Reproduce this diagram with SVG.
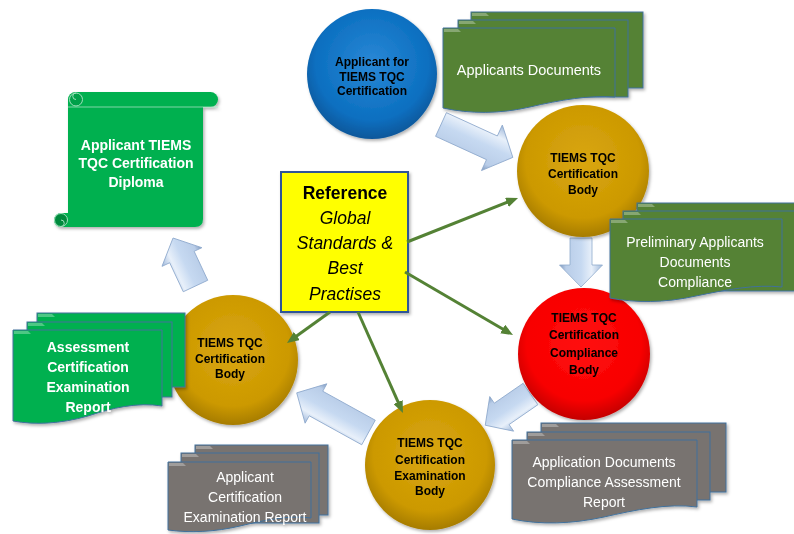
<svg xmlns="http://www.w3.org/2000/svg" width="794" height="534" viewBox="0 0 794 534">
<defs>
<style>
.ctext{font-family:"Liberation Sans",Arial,sans-serif;font-weight:bold;font-size:12px;fill:#000;text-anchor:middle}
.dtext{font-family:"Liberation Sans",Arial,sans-serif;font-size:14px;fill:#fff;text-anchor:middle}
.btext{font-family:"Liberation Sans",Arial,sans-serif;font-weight:bold;font-size:14px;fill:#fff;text-anchor:middle}
.rtext{font-family:"Liberation Sans",Arial,sans-serif;font-size:17.5px;fill:#000;text-anchor:middle}
.dgreen{fill:#548235;stroke:#41719c;stroke-width:1}
.bgreen{fill:#00b050;stroke:#41719c;stroke-width:1}
.grey{fill:#787370;stroke:#41719c;stroke-width:1}
.tab{fill:#ffffff;opacity:0.3}
.barrow{fill:url(#arrGrad);stroke:#8ea9cc;stroke-width:0.8}
.conn{stroke:#548235;stroke-width:3;fill:none;marker-end:url(#gArrow)}
</style>
<radialGradient id="blueGrad" cx="50%" cy="42%" r="58%">
<stop offset="0" stop-color="#2a88d6"/><stop offset="0.75" stop-color="#0b6fc0"/><stop offset="1" stop-color="#0a579a"/>
</radialGradient>
<radialGradient id="goldGrad" cx="50%" cy="42%" r="58%">
<stop offset="0" stop-color="#d9a611"/><stop offset="0.75" stop-color="#cc9900"/><stop offset="1" stop-color="#a67c04"/>
</radialGradient>
<radialGradient id="redGrad" cx="50%" cy="42%" r="58%">
<stop offset="0" stop-color="#ff1010"/><stop offset="0.75" stop-color="#f80000"/><stop offset="1" stop-color="#c40000"/>
</radialGradient>
<linearGradient id="arrGrad" x1="0" y1="0" x2="0" y2="1">
<stop offset="0" stop-color="#9fb8da"/><stop offset="0.25" stop-color="#e8f0fa"/><stop offset="0.5" stop-color="#c6d9f1"/><stop offset="0.85" stop-color="#b9cde8"/><stop offset="1" stop-color="#7f98bd"/>
</linearGradient>
<filter id="sh" x="-10%" y="-10%" width="125%" height="125%">
<feDropShadow dx="1.5" dy="2" stdDeviation="1.5" flood-color="#000" flood-opacity="0.3"/>
</filter>
<marker id="gArrow" viewBox="0 0 12 10" markerWidth="12" markerHeight="10" refX="4" refY="5" orient="auto" markerUnits="userSpaceOnUse">
<path d="M0,0 L12,5 L0,10 Z" fill="#548235"/>
</marker>
</defs>
<rect width="794" height="534" fill="#fff"/>

<g id="block-arrows">
<path class="barrow" transform="translate(441,124.5) rotate(24.6)" d="M0,-13 H56 V-25 L79,0 L56,25 V13 H0 Z"/>
<path class="barrow" transform="translate(581,238) rotate(90)" d="M0,-11 H27 V-21.5 L49,0 L27,21.5 V11 H0 Z"/>
<path class="barrow" transform="translate(530.5,394) rotate(145.4)" d="M0,-13 H35 V-21 L55,0 L35,21 V13 H0 Z"/>
<path class="barrow" transform="translate(368.5,432.5) rotate(208.9)" d="M0,-14 H60 V-22.5 L82,0 L60,22.5 V14 H0 Z"/>
<path class="barrow" transform="translate(195.5,286) rotate(244.9)" d="M0,-13.5 H32 V-22 L53,0 L32,22 V13.5 H0 Z"/>
</g>

<g id="applicant" filter="url(#sh)">
<circle cx="372" cy="74" r="65" fill="url(#blueGrad)"/>
<text class="ctext" x="372" y="66">Applicant for</text>
<text class="ctext" x="372" y="80.5">TIEMS TQC</text>
<text class="ctext" x="372" y="95">Certification</text>
</g>

<g id="body1" filter="url(#sh)">
<circle cx="583" cy="171" r="66" fill="url(#goldGrad)"/>
<text class="ctext" x="583" y="162">TIEMS TQC</text>
<text class="ctext" x="583" y="178">Certification</text>
<text class="ctext" x="583" y="194">Body</text>
</g>

<g id="compliance-body" filter="url(#sh)">
<circle cx="584" cy="354" r="66" fill="url(#redGrad)"/>
<text class="ctext" x="584" y="322">TIEMS TQC</text>
<text class="ctext" x="584" y="339">Certification</text>
<text class="ctext" x="584" y="357">Compliance</text>
<text class="ctext" x="584" y="374">Body</text>
</g>

<g id="exam-body" filter="url(#sh)">
<circle cx="430" cy="465" r="65" fill="url(#goldGrad)"/>
<text class="ctext" x="430" y="447">TIEMS TQC</text>
<text class="ctext" x="430" y="464">Certification</text>
<text class="ctext" x="430" y="480">Examination</text>
<text class="ctext" x="430" y="495">Body</text>
</g>

<g id="body2" filter="url(#sh)">
<circle cx="233" cy="360" r="65" fill="url(#goldGrad)"/>
<text class="ctext" x="230" y="347">TIEMS TQC</text>
<text class="ctext" x="230" y="363">Certification</text>
<text class="ctext" x="230" y="378">Body</text>
</g>

<g id="applicants-documents" filter="url(#sh)">
<rect class="dgreen" x="471" y="12" width="172" height="76"/>
<path class="tab" d="M472,13 H486 L489,16 H472 Z"/>
<rect class="dgreen" x="458" y="20" width="170" height="77"/>
<path class="tab" d="M459,21 H473 L476,24 H459 Z"/>
<path class="dgreen" d="M443,28 H615 V97 C590,95 560,100 530,107 C500,114 470,114 443,108 Z"/>
<path class="tab" d="M444,29 H458 L461,32 H444 Z"/>
<text class="dtext" x="529" y="75" style="font-size:14.5px">Applicants Documents</text>
</g>

<g id="preliminary" filter="url(#sh)">
<rect class="dgreen" x="637" y="203" width="172" height="76"/>
<path class="tab" d="M638,204 H652 L655,207 H638 Z"/>
<rect class="dgreen" x="623" y="211" width="172" height="80"/>
<path class="tab" d="M624,212 H638 L641,215 H624 Z"/>
<path class="dgreen" d="M610,219 H782 V287 C755,284 725,290 696,296 C665,303 635,303 610,298 Z"/>
<path class="tab" d="M611,220 H625 L628,223 H611 Z"/>
<text class="dtext" x="695" y="247">Preliminary Applicants</text>
<text class="dtext" x="695" y="267">Documents</text>
<text class="dtext" x="695" y="287">Compliance</text>
</g>

<g id="compliance-report" filter="url(#sh)">
<rect class="grey" x="541" y="423" width="185" height="69"/>
<path class="tab" d="M542,424 H556 L559,427 H542 Z"/>
<rect class="grey" x="527" y="432" width="183" height="68"/>
<path class="tab" d="M528,433 H542 L545,436 H528 Z"/>
<path class="grey" d="M512,440 H697 V507 C668,503 635,510 604,517 C572,524 540,525 512,519 Z"/>
<path class="tab" d="M513,441 H527 L530,444 H513 Z"/>
<text class="dtext" x="604" y="467">Application Documents</text>
<text class="dtext" x="604" y="487">Compliance Assessment</text>
<text class="dtext" x="604" y="507">Report</text>
</g>

<g id="assessment-report" filter="url(#sh)">
<rect class="bgreen" x="37" y="313" width="148" height="74"/>
<path class="tab" d="M38,314 H52 L55,317 H38 Z"/>
<rect class="bgreen" x="27" y="322" width="145" height="75"/>
<path class="tab" d="M28,323 H42 L45,326 H28 Z"/>
<path class="bgreen" d="M13,330 H162 V406 C137,402 112,408 88,416 C60,424 35,425 13,421 Z"/>
<path class="tab" d="M14,331 H28 L31,334 H14 Z"/>
<text class="btext" x="88" y="352">Assessment</text>
<text class="btext" x="88" y="372">Certification</text>
<text class="btext" x="88" y="392">Examination</text>
<text class="btext" x="88" y="412">Report</text>
</g>

<g id="exam-report" filter="url(#sh)">
<rect class="grey" x="195" y="445" width="133" height="70"/>
<path class="tab" d="M196,446 H210 L213,449 H196 Z"/>
<rect class="grey" x="181" y="453" width="138" height="70"/>
<path class="tab" d="M182,454 H196 L199,457 H182 Z"/>
<path class="grey" d="M168,462 H311 V518 C290,515 265,520 240,526 C215,532 190,533 168,530 Z"/>
<path class="tab" d="M169,463 H183 L186,466 H169 Z"/>
<text class="dtext" x="245" y="482">Applicant</text>
<text class="dtext" x="245" y="502">Certification</text>
<text class="dtext" x="245" y="522">Examination Report</text>
</g>

<g id="diploma" filter="url(#sh)">
<path fill="#00b050" d="M68,100 H203 V219 Q203,227 195,227 H61 A7,7 0 0 1 61,213 H68 Z"/>
<rect x="68" y="92" width="150" height="15" rx="7.5" fill="#00b050"/>
<circle cx="76" cy="99.5" r="6.5" fill="#00a048" stroke="#9fe0bb" stroke-width="1"/>
<path d="M76,93 A3.2,3.2 0 0 0 76,99.5" fill="none" stroke="#9fe0bb" stroke-width="1"/>
<path d="M68,107 H218" stroke="#9fe0bb" stroke-width="0.8" fill="none"/>
<circle cx="61" cy="220" r="6.5" fill="#008a3e" stroke="#9fe0bb" stroke-width="1"/>
<path d="M61,220 A3.2,3.2 0 0 1 61,226.5" fill="none" stroke="#9fe0bb" stroke-width="1"/>
<text class="btext" x="136" y="150">Applicant TIEMS</text>
<text class="btext" x="136" y="168">TQC Certification</text>
<text class="btext" x="136" y="187">Diploma</text>
</g>

<g id="reference" filter="url(#sh)">
<rect x="281" y="172" width="127" height="140" fill="#ffff00" stroke="#2f5597" stroke-width="2"/>
<text class="rtext" x="345" y="199" font-weight="bold">Reference</text>
<text class="rtext" x="345" y="224" font-style="italic">Global</text>
<text class="rtext" x="345" y="249" font-style="italic">Standards &amp;</text>
<text class="rtext" x="345" y="274" font-style="italic">Best</text>
<text class="rtext" x="345" y="300" font-style="italic">Practises</text>
</g>

<g id="connectors">
<line class="conn" x1="407" y1="242" x2="510.6" y2="200.9"/>
<line class="conn" x1="405" y1="272" x2="506.1" y2="331"/>
<line class="conn" x1="330" y1="312" x2="293.5" y2="338.3"/>
<line class="conn" x1="358" y1="312" x2="399.7" y2="405.7"/>
</g>
</svg>
